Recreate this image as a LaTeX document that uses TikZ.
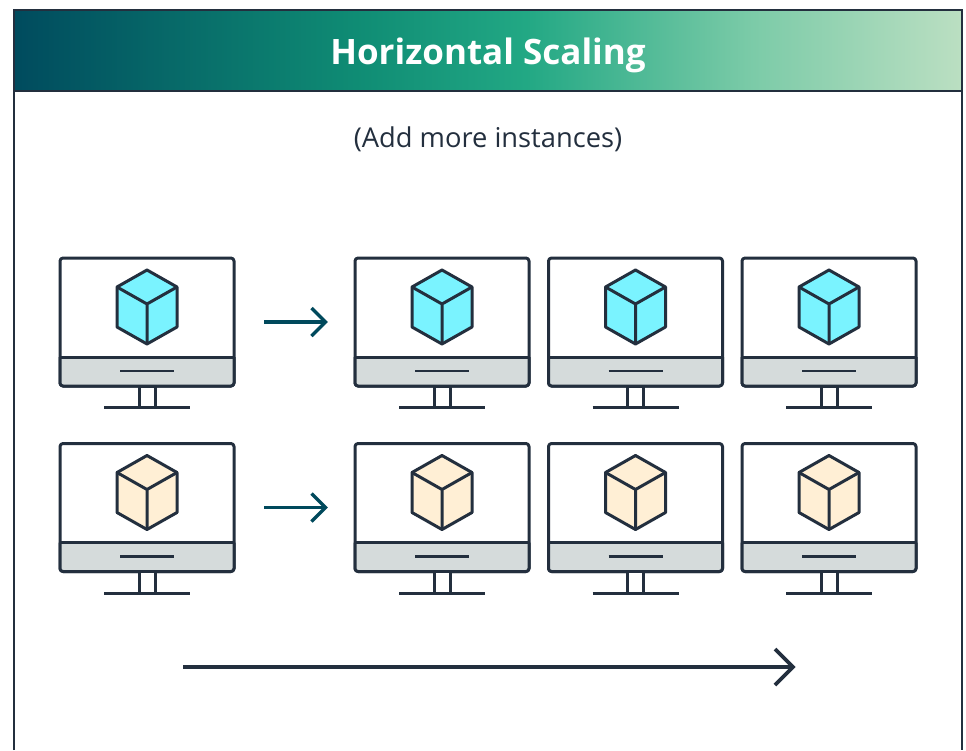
\documentclass[tikz,border=0pt]{standalone}
\usepackage{fontspec}
\setmainfont{Open Sans}
\usetikzlibrary{calc}
\definecolor{ink}{HTML}{232F3E}
\definecolor{teal}{HTML}{00495C}
\definecolor{panel}{HTML}{D5DBDB}
\definecolor{cubeblue}{HTML}{7AF3FF}
\definecolor{cubecream}{HTML}{FFEFD5}
\definecolor{g0}{HTML}{004B5E}
\definecolor{g1}{HTML}{0F8C74}
\definecolor{g2}{HTML}{22A884}
\definecolor{g3}{HTML}{7CCBA8}
\definecolor{g4}{HTML}{BBDFC2}
\pgfdeclarehorizontalshading{headgradb}{100bp}{
  color(0bp)=(g0); color(25bp)=(g0);
  color(43bp)=(g1); color(52bp)=(g2);
  color(64bp)=(g3); color(75bp)=(g4); color(100bp)=(g4)}
\tikzset{
  line/.style={draw=ink,line width=3pt,line join=round},
  thin line/.style={draw=ink,line width=2.8pt},
  pics/monitor/.style={code={
    \draw[line,fill=white,rounded corners=3pt] (0,0) rectangle (174,128);
    \fill[panel,rounded corners=3pt] (0,99) -- (174,99) -- (174,128) -- (0,128) -- cycle;
    \fill[panel] (0,99) rectangle (174,110);
    \draw[line,rounded corners=3pt] (0,99) -- (0,128) -- (174,128) -- (174,99);
    \draw[line] (0,99) -- (174,99);
    \draw[thin line] (60,113) -- (114,113);
    \draw[line,fill=white] (79,128) rectangle (95,149.5);
    \draw[line] (44,149.5) -- (130,149.5);
    \draw[line,fill=#1] (87,12) -- (117,29) -- (117,69) -- (87,86) -- (57,69) -- (57,29) -- cycle;
    \draw[line] (57,29) -- (87,46) -- (117,29) (87,46) -- (87,86);
  }},
  flow/.style={draw=teal,line width=3.3pt,line join=miter},
  mainflow/.style={draw=ink,line width=3.6pt,line join=miter}
}
\begin{document}
\begin{tikzpicture}[x=1pt,y=-1pt]
\useasboundingbox (0,0) rectangle (966,750);
\fill[white] (0,0) rectangle (966,750);
\shade[shading=headgradb] (14,10) rectangle (962,91);
\draw[draw=ink,line width=2pt] (14,750) -- (14,10) -- (962,10) -- (962,750);
\draw[draw=ink,line width=2.4pt] (14,91) -- (962,91);
\node[text=white,font=\bfseries\fontsize{35}{42}\selectfont] (title) at (488,55) {Horizontal Scaling};
\node[text=ink,font=\fontsize{27.3}{32}\selectfont] (subtitle) at (488,139.5) {(Add more instances)};
\foreach \x in {60,355,548.5,742} {
  \pic at (\x,258) {monitor=cubeblue};
  \pic at (\x,443.5) {monitor=cubecream};
}
\coordinate (a1s) at (264,322); \coordinate (a1e) at (325.5,322);
\coordinate (a2s) at (264,507.5); \coordinate (a2e) at (325.5,507.5);
\coordinate (a3s) at (183,667); \coordinate (a3e) at (793,667);
\draw[flow] (a1s) -- (a1e);
\draw[flow] ($(a1e)+(-14,-14)$) -- (a1e) -- ($(a1e)+(-14,14)$);
\draw[flow] (a2s) -- (a2e);
\draw[flow] ($(a2e)+(-14,-14)$) -- (a2e) -- ($(a2e)+(-14,14)$);
\draw[mainflow] (a3s) -- (a3e);
\draw[mainflow] ($(a3e)+(-18,-18)$) -- (a3e) -- ($(a3e)+(-18,18)$);
\end{tikzpicture}
\end{document}
